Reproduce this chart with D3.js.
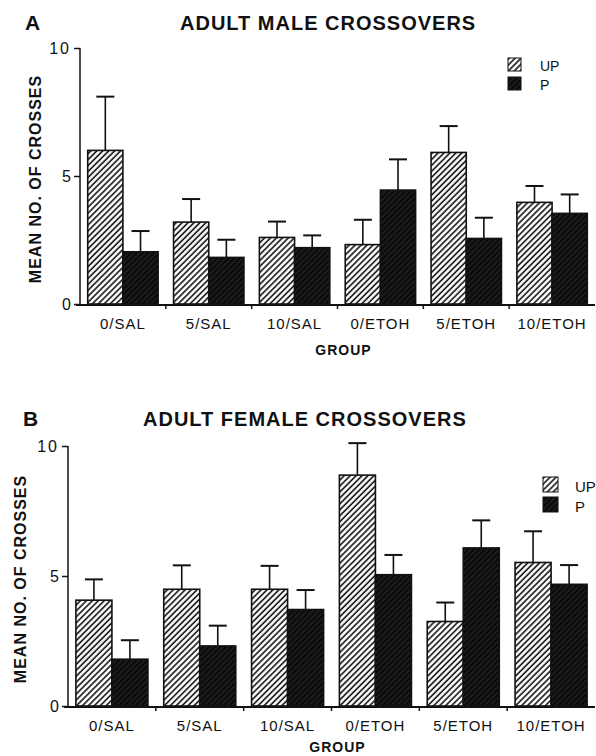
<!DOCTYPE html>
<html>
<head>
<meta charset="utf-8">
<script src="https://cdn.jsdelivr.net/npm/d3@7"></script>
<style>
  body { margin: 0; background: #fff; }
  svg { display: block; }
  text { font-family: "Liberation Sans", Arial, Helvetica, sans-serif; fill: #111; }
</style>
</head>
<body>
<div id="wrapper"></div>
<script>

// data
const groups = ["0/SAL", "5/SAL", "10/SAL", "0/ETOH", "5/ETOH", "10/ETOH"]
const seriesNames = ["UP", "P"]
const yTicks = [0, 5, 10]

const maleUP = [6.0, 3.2, 2.6, 2.32, 5.92, 3.97]
const maleUPErr = [2.1, 0.9, 0.62, 0.97, 1.03, 0.64]
const maleP = [2.04, 1.82, 2.2, 4.45, 2.56, 3.54]
const malePErr = [0.81, 0.69, 0.48, 1.2, 0.81, 0.74]

const femaleUP = [4.07, 4.49, 4.49, 8.88, 3.25, 5.52]
const femaleUPErr = [0.8, 0.92, 0.9, 1.23, 0.73, 1.2]
const femaleP = [1.8, 2.31, 3.71, 5.05, 6.08, 4.68]
const femalePErr = [0.73, 0.78, 0.75, 0.76, 1.06, 0.74]

function drawChart() {

  const width = 596
  const height = 756

  const svg = d3.select("#wrapper")
    .append("svg")
      .attr("width", width)
      .attr("height", height)

  // fill patterns
  const defs = svg.append("defs")

  const upPat = defs.append("pattern")
      .attr("id", "hatch-up")
      .attr("patternUnits", "userSpaceOnUse")
      .attr("width", 4.2)
      .attr("height", 4.2)
      .attr("patternTransform", "rotate(45)")
  upPat.append("rect").attr("width", 4.2).attr("height", 4.2).attr("fill", "#fff")
  upPat.append("line")
      .attr("x1", 1).attr("y1", 0).attr("x2", 1).attr("y2", 4.2)
      .attr("stroke", "#111").attr("stroke-width", 1.6)

  const pPat = defs.append("pattern")
      .attr("id", "hatch-p")
      .attr("patternUnits", "userSpaceOnUse")
      .attr("width", 4)
      .attr("height", 4)
      .attr("patternTransform", "rotate(45)")
  pPat.append("rect").attr("width", 4).attr("height", 4).attr("fill", "#0a0a0a")
  pPat.append("line")
      .attr("x1", 1).attr("y1", 0).attr("x2", 1).attr("y2", 4)
      .attr("stroke", "#444").attr("stroke-width", 0.6)

  const fills = {UP: "url(#hatch-up)", P: "url(#hatch-p)"}

  const panels = [
    {
      letter: "A", title: "ADULT MALE CROSSOVERS",
      up: maleUP, upErr: maleUPErr, p: maleP, pErr: malePErr,
      left: 80, right: 595, top: 48, bottom: 304,
      letterX: 25, titleX: 180, titleY: 30, groupDy: 51,
      yLabelX: 41, legendX: 508, legendY: 58, legendBox: 13, legendGap: 19, legendTextX: 540,
      legendFont: 14
    },
    {
      letter: "B", title: "ADULT FEMALE CROSSOVERS",
      up: femaleUP, upErr: femaleUPErr, p: femaleP, pErr: femalePErr,
      left: 68, right: 595, top: 446, bottom: 706,
      letterX: 23, titleX: 143, titleY: 426, groupDy: 46,
      yLabelX: 26, legendX: 543, legendY: 477, legendBox: 15, legendGap: 20, legendTextX: 575,
      legendFont: 15
    }
  ]

  panels.forEach(panel => {
    const g = svg.append("g")

    const x0 = d3.scaleBand()
      .domain(groups)
      .range([panel.left, panel.right])
      .padding(0)

    const pad = x0.bandwidth() * 0.09
    const x1 = d3.scaleBand()
      .domain(seriesNames)
      .range([pad, x0.bandwidth() - pad])
      .padding(0)

    const y = d3.scaleLinear()
      .domain([0, 10])
      .range([panel.bottom, panel.top])

    // bars
    const rows = groups.map((grp, i) => ({
      group: grp,
      values: [
        {key: "UP", value: panel.up[i], err: panel.upErr[i]},
        {key: "P", value: panel.p[i], err: panel.pErr[i]}
      ]
    }))

    const groupG = g.selectAll(".grp")
      .data(rows)
      .join("g")
        .attr("transform", d => `translate(${x0(d.group)},0)`)

    // error bars first so bars sit on top
    groupG.selectAll(".err")
      .data(d => d.values)
      .join("line")
        .attr("x1", d => x1(d.key) + x1.bandwidth() / 2)
        .attr("x2", d => x1(d.key) + x1.bandwidth() / 2)
        .attr("y1", d => y(d.value))
        .attr("y2", d => y(d.value + d.err))
        .attr("stroke", "#111")
        .attr("stroke-width", 1.6)

    groupG.selectAll(".cap")
      .data(d => d.values)
      .join("line")
        .attr("x1", d => x1(d.key) + x1.bandwidth() / 2 - 9)
        .attr("x2", d => x1(d.key) + x1.bandwidth() / 2 + 9)
        .attr("y1", d => y(d.value + d.err))
        .attr("y2", d => y(d.value + d.err))
        .attr("stroke", "#111")
        .attr("stroke-width", 2)

    groupG.selectAll("rect")
      .data(d => d.values)
      .join("rect")
        .attr("x", d => x1(d.key))
        .attr("width", x1.bandwidth())
        .attr("y", d => y(d.value))
        .attr("height", d => y(0) - y(d.value))
        .attr("fill", d => fills[d.key])
        .attr("stroke", "#111")
        .attr("stroke-width", 1.6)

    // y axis
    const yAxis = d3.axisLeft(y)
      .tickValues(yTicks)
      .tickSize(6)
      .tickPadding(3)
      .tickFormat(d3.format("d"))

    const yAxisG = g.append("g")
      .attr("transform", `translate(${panel.left},0)`)
      .call(yAxis)
    yAxisG.select(".domain").remove()
    yAxisG.append("line")
      .attr("x1", 0).attr("x2", 0)
      .attr("y1", y(10)).attr("y2", y(0) + 2)
      .attr("stroke", "#111").attr("stroke-width", 1.5)
    yAxisG.selectAll(".tick line").attr("stroke", "#111").attr("stroke-width", 1.5)
    yAxisG.selectAll(".tick text")
      .attr("font-size", 16)
      .attr("letter-spacing", d => d === 10 ? 2 : 0)
      .attr("font-family", "Liberation Sans, Arial, sans-serif")
      .attr("fill", "#111")

    // x axis: ticks at group boundaries
    const xAxisG = g.append("g")
    xAxisG.append("line")
      .attr("x1", panel.left - 4).attr("x2", panel.right)
      .attr("y1", y(0) + 1).attr("y2", y(0) + 1)
      .attr("stroke", "#111").attr("stroke-width", 2)
    xAxisG.selectAll(".xtick")
      .data(groups.slice(1))
      .join("line")
        .attr("x1", d => x0(d)).attr("x2", d => x0(d))
        .attr("y1", y(0)).attr("y2", y(0) + 5)
        .attr("stroke", "#111").attr("stroke-width", 1.5)
    xAxisG.selectAll(".xlabel")
      .data(groups)
      .join("text")
        .attr("x", d => x0(d) + x0.bandwidth() / 2)
        .attr("y", y(0) + 25)
        .attr("text-anchor", "middle")
        .attr("font-size", 15)
        .attr("letter-spacing", 1)
        .text(d => d)

    g.append("text")
      .attr("x", (panel.left + panel.right) / 2 + 6)
      .attr("y", y(0) + panel.groupDy)
      .attr("text-anchor", "middle")
      .attr("font-size", 14)
      .attr("font-weight", "bold")
      .attr("letter-spacing", 1)
      .text("GROUP")

    // y label
    g.append("text")
      .attr("transform", `translate(${panel.yLabelX},${(y(0) + y(10)) / 2 + 3}) rotate(-90)`)
      .attr("text-anchor", "middle")
      .attr("font-size", 16)
      .attr("font-weight", "bold")
      .attr("letter-spacing", 1)
      .text("MEAN NO. OF CROSSES")

    // panel letter and title
    g.append("text")
      .attr("x", panel.letterX)
      .attr("y", panel.titleY)
      .attr("font-size", 21)
      .attr("font-weight", "bold")
      .text(panel.letter)

    g.append("text")
      .attr("x", panel.titleX)
      .attr("y", panel.titleY)
      .attr("font-size", 20)
      .attr("font-weight", "bold")
      .attr("letter-spacing", 1)
      .text(panel.title)

    // legend
    const legend = g.selectAll(".legend")
      .data(seriesNames)
      .join("g")
        .attr("transform", (d, i) => `translate(${panel.legendX},${panel.legendY + i * panel.legendGap})`)

    legend.append("rect")
      .attr("width", panel.legendBox)
      .attr("height", panel.legendBox)
      .attr("fill", d => fills[d])
      .attr("stroke", "#111")
      .attr("stroke-width", 1)

    legend.append("text")
      .attr("x", panel.legendTextX - panel.legendX)
      .attr("y", panel.legendBox)
      .attr("font-size", panel.legendFont)
      .text(d => d)
  })
}
drawChart()
</script>
</body>
</html>
